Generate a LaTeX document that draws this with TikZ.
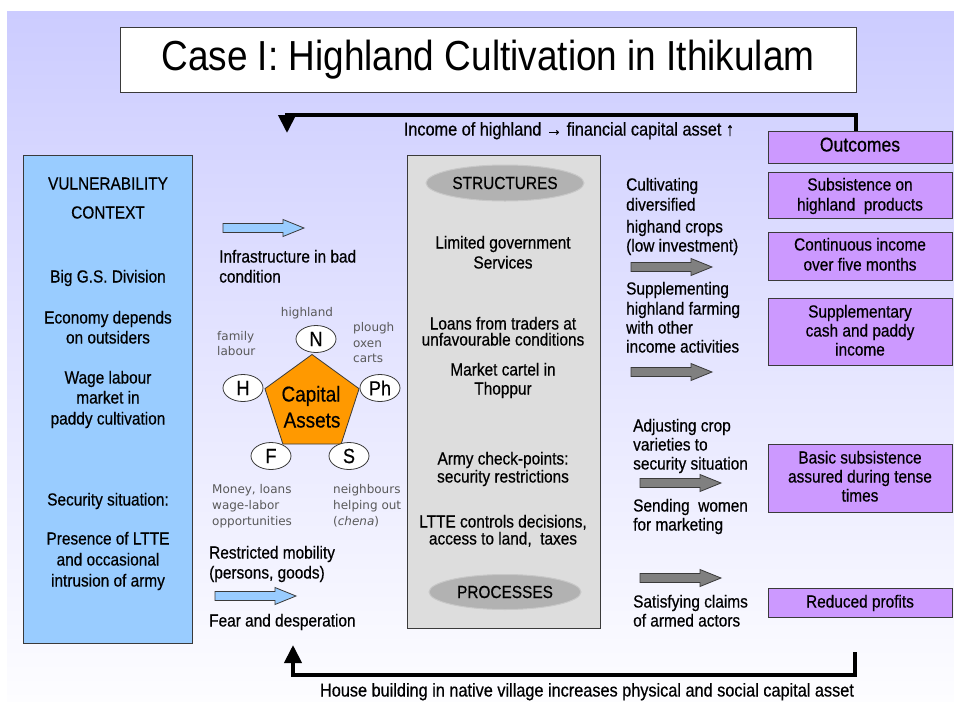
\documentclass[tikz,border=0pt]{standalone}
\usepackage{fontspec}
\setmainfont{Liberation Sans}[FakeStretch=0.88,FakeBold=0.5]
\newfontfamily\titlefont{Liberation Sans}[FakeStretch=0.88]
\newfontfamily\lblfont{DejaVu Sans}
\usetikzlibrary{arrows.meta,shapes.geometric}
\definecolor{bgtop}{HTML}{CCCCFF}
\definecolor{bgbot}{HTML}{FDFDFF}
\definecolor{vulblue}{HTML}{99CCFF}
\definecolor{assetorange}{HTML}{FF9900}
\definecolor{outpurple}{HTML}{CC99FF}
\definecolor{structgray}{HTML}{DDDDDD}
\definecolor{ovalgray}{HTML}{B2B2B2}
\definecolor{ovalline}{HTML}{C8C8C8}
\definecolor{arrgray}{HTML}{808080}
\definecolor{edgegray}{HTML}{3A3A3A}
\definecolor{lblgray}{HTML}{595959}
\begin{document}
\begin{tikzpicture}[x=1pt,y=-1pt,
 bt/.style={font=\fontsize{17.5}{20}\selectfont, inner sep=0pt, text height=12.5pt, text depth=3.5pt},
 btl/.style={bt, anchor=west},
 lbl/.style={font=\lblfont\fontsize{12}{14}\selectfont, text=lblgray, inner sep=0pt, text height=9pt, text depth=2.5pt, anchor=west},
 panel/.style={draw=edgegray, line width=1pt, inner sep=0pt, anchor=north west},
 ovalnode/.style={ellipse, fill=ovalgray, draw=ovalline, line width=1pt, inner sep=0pt, font=\fontsize{17.5}{19}\selectfont},
 lettnode/.style={ellipse, draw=edgegray, fill=white, line width=0.8pt, minimum width=40pt, minimum height=27pt, inner sep=0pt, font=\fontsize{20.5}{22}\selectfont},
 feedback/.style={line width=4pt, line join=miter},
 blockarr/.pic={\path[pic actions] (0,-4.5) -- (60,-4.5) -- (60,-8.5) -- (81,0) -- (60,8.5) -- (60,4.5) -- (0,4.5) -- cycle;}
]
\fill[white] (0,0) rectangle (954,702);
\useasboundingbox (0,0) rectangle (954,702);
\shade[top color=bgtop, bottom color=bgbot] (7,11) rectangle (954,702);

% title
\node[panel, fill=white, minimum width=736pt, minimum height=65pt] (titlebox) at (120,27) {};
\node[font=\titlefont\fontsize{42}{46}\selectfont, inner sep=0pt] (title) at (488,60) {Case I: Highland Cultivation in Ithikulam};

% vulnerability box
\node[panel, fill=vulblue, minimum width=169pt, minimum height=488pt] (vul) at (23,155) {};
\node[bt] (v1) at (108,185) {VULNERABILITY};
\node[bt] (v2) at (108,214) {CONTEXT};
\node[bt] (v3) at (108,278) {Big G.S. Division};
\node[bt] (v4) at (108,319) {Economy depends};
\node[bt] (v5) at (108,339) {on outsiders};
\node[bt] (v6) at (108,379) {Wage labour};
\node[bt] (v7) at (108,399) {market in};
\node[bt] (v8) at (108,420) {paddy cultivation};
\node[bt] (v9) at (108,501) {Security situation:};
\node[bt] (v10) at (108,540) {Presence of LTTE};
\node[bt] (v11) at (108,561) {and occasional};
\node[bt] (v12) at (108,582) {intrusion of army};

% left column
\pic[fill=vulblue, draw=edgegray, line width=0.8pt] at (223,228) {blockarr};
\node[btl] (i1) at (219,258) {Infrastructure in bad};
\node[btl] (i2) at (219,278) {condition};
\node[btl] (r1) at (209,554) {Restricted mobility};
\node[btl] (r2) at (209,574) {(persons, goods)};
\pic[fill=vulblue, draw=edgegray, line width=0.8pt] at (215,596) {blockarr};
\node[btl] (r3) at (209,622) {Fear and desperation};

% capital assets
\node[regular polygon, regular polygon sides=5, minimum size=99pt, fill=assetorange, draw=edgegray, line width=0.8pt, inner sep=0pt] (pent) at (312,404) {};
\node[bt, font=\fontsize{21.5}{23}\selectfont] (capa) at (311,397) {Capital};
\node[bt, font=\fontsize{21.5}{23}\selectfont] (capb) at (312,423) {Assets};
\node[lettnode] (N) at (316,339) {N};
\node[lettnode] (H) at (243,388) {H};
\node[lettnode] (Ph) at (380,388) {Ph};
\node[lettnode] (F) at (271,456) {F};
\node[lettnode] (S) at (349,456) {S};
\node[lbl, anchor=center] (lN) at (307,313) {highland};
\node[lbl] (lH1) at (217,337) {family};
\node[lbl] (lH2) at (217,352) {labour};
\node[lbl] (lP1) at (353,328) {plough};
\node[lbl] (lP2) at (353,344) {oxen};
\node[lbl] (lP3) at (353,359) {carts};
\node[lbl] (lF1) at (212,490) {Money, loans};
\node[lbl] (lF2) at (212,506) {wage-labor};
\node[lbl] (lF3) at (212,522) {opportunities};
\node[lbl] (lS1) at (333,490) {neighbours};
\node[lbl] (lS2) at (333,506) {helping out};
\node[lbl] (lS3) at (333,522) {(\textit{chena})};

% structures box
\node[panel, fill=structgray, minimum width=193pt, minimum height=473pt] (struct) at (407,155) {};
\node[ovalnode, minimum width=158pt, minimum height=36pt] (structs) at (505,183) {STRUCTURES};
\node[ovalnode, minimum width=152pt, minimum height=35pt] (procs) at (505,592) {PROCESSES};
\node[bt] (s1) at (503,244) {Limited government};
\node[bt] (s2) at (503,264) {Services};
\node[bt] (s3) at (503,325) {Loans from traders at};
\node[bt] (s4) at (503,341) {unfavourable conditions};
\node[bt] (s5) at (503,371) {Market cartel in};
\node[bt] (s6) at (503,390) {Thoppur};
\node[bt] (s7) at (503,460) {Army check-points:};
\node[bt] (s8) at (503,478) {security restrictions};
\node[bt] (s9) at (503,523) {LTTE controls decisions,};
\node[bt] (s10) at (503,540) {access to land,~ taxes};

% strategies
\node[btl] (a1) at (626,186) {Cultivating};
\node[btl] (a2) at (626,206) {diversified};
\node[btl] (a3) at (626,228) {highand crops};
\node[btl] (a4) at (626,247) {(low investment)};
\pic[fill=arrgray, draw=edgegray, line width=0.8pt] at (631,267) {blockarr};
\node[btl] (b1) at (626,290) {Supplementing};
\node[btl] (b2) at (626,310) {highland farming};
\node[btl] (b3) at (626,329) {with other};
\node[btl] (b4) at (626,348) {income activities};
\pic[fill=arrgray, draw=edgegray, line width=0.8pt] at (631,372) {blockarr};
\node[btl] (c1) at (633,427) {Adjusting crop};
\node[btl] (c2) at (633,446) {varieties to};
\node[btl] (c3) at (633,465) {security situation};
\pic[fill=arrgray, draw=edgegray, line width=0.8pt] at (640,483) {blockarr};
\node[btl] (d1) at (633,507) {Sending~ women};
\node[btl] (d2) at (633,526) {for marketing};
\pic[fill=arrgray, draw=edgegray, line width=0.8pt] at (640,578) {blockarr};
\node[btl] (e1) at (633,603) {Satisfying claims};
\node[btl] (e2) at (633,622) {of armed actors};

% outcomes
\node[panel, fill=outpurple, minimum width=184pt, minimum height=32pt] (outc) at (768,131) {};
\node[bt, font=\fontsize{20}{22}\selectfont] (o0) at (860,147) {Outcomes};
\node[panel, fill=outpurple, minimum width=184pt, minimum height=46pt] (ob1) at (768,172) {};
\node[bt] (o1) at (860,186) {Subsistence on};
\node[bt] (o2) at (860,206) {highland~ products};
\node[panel, fill=outpurple, minimum width=184pt, minimum height=48pt] (ob2) at (768,232) {};
\node[bt] (o3) at (860,246) {Continuous income};
\node[bt] (o4) at (860,266) {over five months};
\node[panel, fill=outpurple, minimum width=184pt, minimum height=67pt] (ob3) at (768,298) {};
\node[bt] (o5) at (860,313) {Supplementary};
\node[bt] (o6) at (860,332) {cash and paddy};
\node[bt] (o7) at (860,351) {income};
\node[panel, fill=outpurple, minimum width=184pt, minimum height=68pt] (ob4) at (768,444) {};
\node[bt] (o8) at (860,459) {Basic subsistence};
\node[bt] (o9) at (860,478) {assured during tense};
\node[bt] (o10) at (860,497) {times};
\node[panel, fill=outpurple, minimum width=184pt, minimum height=29pt] (ob5) at (768,588) {};
\node[bt] (o11) at (860,603) {Reduced profits};

% feedback loops
\coordinate (topstart) at (856,131);
\coordinate (topend) at (287,133);
\draw[feedback, -{Triangle[width=17pt,length=18pt]}] (topstart) -- ++(0,-16) -| (topend);
\node[bt, font=\fontsize{18.5}{20}\selectfont] (toplbl) at (569,131) {Income of highland → financial capital asset ↑};
\coordinate (botstart) at (855,652);
\coordinate (botend) at (293,645);
\draw[feedback, -{Triangle[width=17pt,length=18pt]}] (botstart) -- ++(0,23) -| (botend);
\node[bt, font=\fontsize{18.5}{20}\selectfont] (botlbl) at (587,692) {House building in native village increases physical and social capital asset};
\end{tikzpicture}
\end{document}
